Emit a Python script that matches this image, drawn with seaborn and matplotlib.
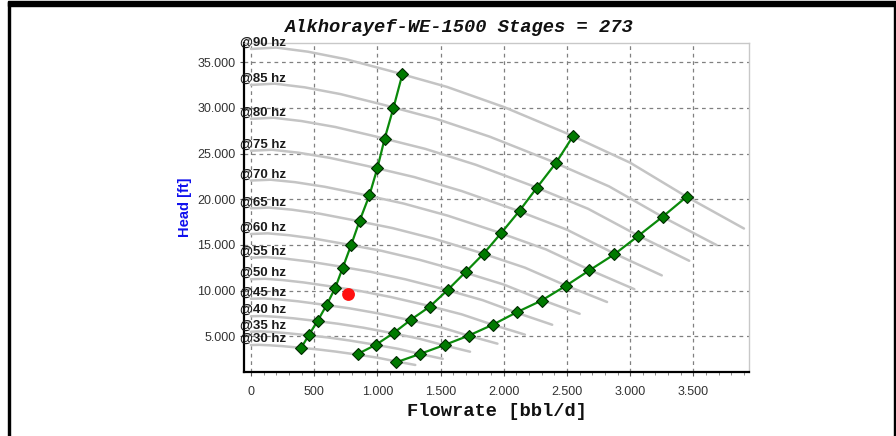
import numpy as np
import pandas as pd
import matplotlib
matplotlib.use("Agg")
import matplotlib.pyplot as plt
import matplotlib.ticker as mticker
from matplotlib.patches import Rectangle
import seaborn as sns

# Curvas da bomba por frequencia (vazao bbl/d, altura ft)
freqs = [90, 85, 80, 75, 70, 65, 60, 55, 50, 45, 40, 35, 30]

q90 = [0, 200, 450, 750, 1100, 1550, 2000, 2500, 3000, 3450, 3900]
h90 = [36450, 36600, 36150, 35330, 34050, 32300, 30100, 27200, 24000, 20250, 16800]
q85 = [0, 189, 425, 708, 1039, 1464, 1889, 2361, 2833, 3258, 3683]
h85 = [32510, 32650, 32250, 31510, 30370, 28810, 26850, 24260, 21410, 18060, 14990]
q80 = [0, 178, 400, 667, 978, 1378, 1778, 2222, 2667, 3067, 3467]
h80 = [28800, 28920, 28560, 27910, 26900, 25520, 23780, 21490, 18960, 16000, 13270]
q75 = [0, 167, 375, 625, 917, 1292, 1667, 2083, 2500, 2875, 3250]
h75 = [25310, 25420, 25100, 24530, 23650, 22430, 20900, 18890, 16670, 14060, 11670]
q70 = [0, 156, 350, 583, 856, 1206, 1556, 1944, 2333, 2683, 3033]
h70 = [22050, 22140, 21870, 21370, 20600, 19540, 18210, 16450, 14520, 12250, 10160]
q65 = [0, 144, 325, 542, 794, 1119, 1444, 1806, 2167, 2492, 2817]
h65 = [19010, 19090, 18860, 18430, 17760, 16850, 15700, 14190, 12520, 10560, 8760]
q60 = [0, 133, 300, 500, 733, 1033, 1333, 1667, 2000, 2300, 2600]
h60 = [16200, 16270, 16070, 15700, 15130, 14360, 13380, 12090, 10670, 9000, 7470]
q55 = [0, 122, 275, 458, 672, 947, 1222, 1528, 1833, 2108, 2383]
h55 = [13610, 13670, 13500, 13190, 12720, 12060, 11240, 10160, 8960, 7560, 6270]
q50 = [0, 111, 250, 417, 611, 861, 1111, 1389, 1667, 1917, 2167]
h50 = [11250, 11300, 11160, 10900, 10510, 9970, 9290, 8400, 7410, 6250, 5190]
q45 = [0, 100, 225, 375, 550, 775, 1000, 1250, 1500, 1725, 1950]
h45 = [9110, 9150, 9040, 8830, 8510, 8080, 7530, 6800, 6000, 5060, 4200]
q40 = [0, 89, 200, 333, 489, 689, 889, 1111, 1333, 1533, 1733]
h40 = [7200, 7230, 7140, 6980, 6730, 6380, 5950, 5370, 4740, 4000, 3320]
q35 = [0, 78, 175, 292, 428, 603, 778, 972, 1167, 1342, 1517]
h35 = [5510, 5540, 5470, 5340, 5150, 4890, 4550, 4110, 3630, 3060, 2540]
q30 = [0, 67, 150, 250, 367, 517, 667, 833, 1000, 1150, 1300]
h30 = [4050, 4070, 4020, 3930, 3780, 3590, 3340, 3020, 2670, 2250, 1870]

curve_q = [q90, q85, q80, q75, q70, q65, q60, q55, q50, q45, q40, q35, q30]
curve_h = [h90, h85, h80, h75, h70, h65, h60, h55, h50, h45, h40, h35, h30]

# Faixa de operacao (min, BEP, max) - de 90 hz ate 30 hz
min_q = [1198, 1127, 1058, 1000, 937, 860, 794, 725, 667, 598, 529, 460, 397]
min_h = [33690, 29990, 26650, 23400, 20430, 17660, 15050, 12470, 10320, 8410, 6730, 5190, 3730]
bep_q = [2548, 2413, 2262, 2125, 1980, 1841, 1701, 1558, 1415, 1267, 1129, 990, 844]
bep_h = [26910, 23980, 21270, 18750, 16310, 14060, 12080, 10100, 8260, 6840, 5370, 4090, 3070]
max_q = [3447, 3256, 3061, 2875, 2677, 2492, 2299, 2103, 1915, 1722, 1532, 1336, 1145]
max_h = [20280, 18080, 15960, 13980, 12220, 10540, 8920, 7640, 6290, 5080, 4060, 3070, 2140]

# Ponto de operacao atual
op_q = [772]
op_h = [9580]

x_ticks = [0, 500, 1000, 1500, 2000, 2500, 3000, 3500]
y_ticks = [5000, 10000, 15000, 20000, 25000, 30000, 35000]

# Montar dataframe das curvas
rows = []
for f, qs, hs in zip(freqs, curve_q, curve_h):
    for q, h in zip(qs, hs):
        rows.append({'freq': f, 'Q': q, 'H': h})
df_curvas = pd.DataFrame(rows)

sns.set_style("white")
plt.rcParams['font.family'] = ['Liberation Sans', 'DejaVu Sans']

fig = plt.figure(figsize=(8.96, 4.36), dpi=100)
ax = fig.add_axes([244 / 896, 1 - 372 / 436, (749 - 244) / 896, (372 - 43) / 436])

sns.lineplot(data=df_curvas, x='Q', y='H', hue='freq', units='freq', estimator=None,
             sort=False, palette={f: '#c4c4c4' for f in freqs}, linewidth=1.8,
             legend=False, ax=ax, zorder=2)

for qs, hs in [(min_q, min_h), (bep_q, bep_h), (max_q, max_h)]:
    sns.lineplot(x=qs, y=hs, sort=False, estimator=None, color='#0a8a0a', linewidth=1.6,
                 marker='D', markersize=6.3, markerfacecolor='#007a00',
                 markeredgecolor='#002a00', markeredgewidth=0.8, ax=ax, zorder=4)

sns.scatterplot(x=op_q, y=op_h, color='#ff1010', s=85, edgecolor='none', ax=ax, zorder=5)

# Rotulos de frequencia
for f, qs, hs in zip(freqs, curve_q, curve_h):
    ax.annotate(f'@{f} hz', xy=(qs[0], hs[0]), xytext=(-8, 0), textcoords='offset points',
                ha='left', va='bottom', fontsize=9.5, fontweight='bold', color='#1a1a1a',
                annotation_clip=False, zorder=6)

ax.set_xlim(-55, 3940)
ax.set_ylim(1100, 37100)
ax.set_xticks(x_ticks)
ax.set_yticks(y_ticks)
ax.xaxis.set_minor_locator(mticker.MultipleLocator(100))
fmt = mticker.FuncFormatter(lambda v, p: f'{v:,.0f}'.replace(',', '.'))
ax.xaxis.set_major_formatter(fmt)
ax.yaxis.set_major_formatter(fmt)
ax.tick_params(axis='both', which='major', direction='out', length=3, width=0.8,
               color='#555555', labelsize=9, labelcolor='#333333', pad=3)
ax.tick_params(axis='x', which='major', pad=7)
ax.tick_params(axis='x', which='minor', direction='out', length=2, width=0.6,
               color='#777777', bottom=True)
ax.tick_params(axis='x', bottom=True)
ax.tick_params(axis='y', left=True)

ax.grid(True, which='major', color='#808080', linestyle=(0, (3, 3)), linewidth=0.9)
ax.set_axisbelow(True)

for side in ['left', 'bottom']:
    ax.spines[side].set_color('black')
    ax.spines[side].set_linewidth(1.6)
for side in ['top', 'right']:
    ax.spines[side].set_color('#c8c8c8')
    ax.spines[side].set_linewidth(1.0)

ax.set_xlabel('Flowrate [bbl/d]', family='Liberation Mono', fontweight='bold',
              fontsize=13.5, color='#111111', labelpad=4)
ax.set_ylabel('')

fig.text(185 / 896, 1 - 207 / 436, 'Head [ft]', rotation=90, color='#1010ee',
         fontweight='bold', fontsize=10.5, ha='center', va='center')
fig.text(459 / 896, 1 - 27 / 436, 'Alkhorayef-WE-1500 Stages = 273', family='Liberation Mono',
         style='italic', fontweight='bold', fontsize=13.5, color='#111111',
         ha='center', va='center')

# Moldura externa
fig.patches.append(Rectangle((8 / 896, 1 - 6 / 436), 888 / 896, 4.5 / 436,
                             transform=fig.transFigure, color='black', zorder=10))
fig.patches.append(Rectangle((8 / 896, 0), 2 / 896, 1 - 2 / 436,
                             transform=fig.transFigure, color='black', zorder=10))
fig.patches.append(Rectangle((894 / 896, 0), 2 / 896, 1 - 2 / 436,
                             transform=fig.transFigure, color='black', zorder=10))

plt.savefig('out.png', dpi=100)
